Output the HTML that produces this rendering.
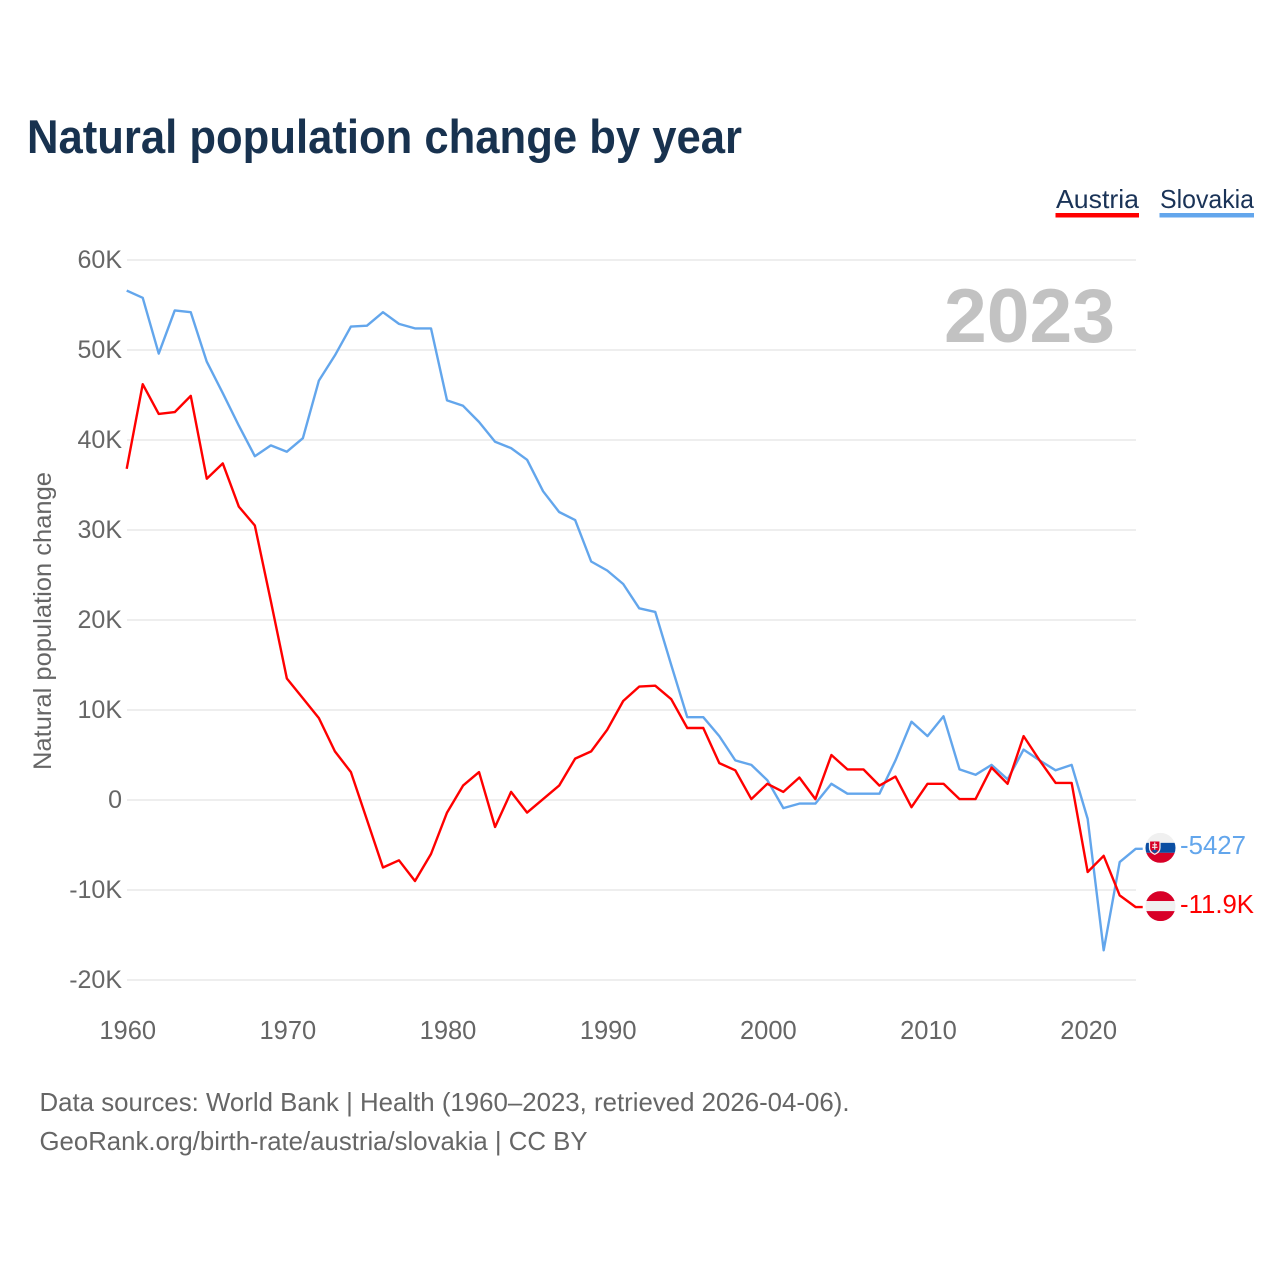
<!DOCTYPE html>
<html lang="en">
<head>
<meta charset="utf-8">
<title>Natural population change by year</title>
<style>
  html,body{margin:0;padding:0;background:#fff;}
  svg{display:block;font-family:"Liberation Sans",sans-serif;}
</style>
</head>
<body>
<svg id="chart" xmlns="http://www.w3.org/2000/svg" width="1280" height="1280" viewBox="0 0 1280 1280">
  <rect x="0" y="0" width="1280" height="1280" fill="#ffffff"/>
  <text x="27" y="153" font-size="47" font-weight="700" fill="#18324f" textLength="715" lengthAdjust="spacingAndGlyphs">Natural population change by year</text>

  <g>
    <g>
      <text x="1056" y="208" font-size="26" fill="#1a3357" textLength="83" lengthAdjust="spacingAndGlyphs">Austria</text>
      <rect x="1055.5" y="213" width="83.5" height="4.5" fill="#ff0000"/>
    </g>
    <g>
      <text x="1160" y="208" font-size="26" fill="#1a3357" textLength="94" lengthAdjust="spacingAndGlyphs">Slovakia</text>
      <rect x="1159.5" y="213" width="94.5" height="4.5" fill="#63a6ec"/>
    </g>
  </g>

  <g id="grid"></g>
  <g id="yticks"></g>
  <g id="xticks"></g>

  <text transform="translate(51,770) rotate(-90)" x="0" y="0" font-size="25" fill="#666666" textLength="298" lengthAdjust="spacingAndGlyphs">Natural population change</text>

  <text x="944" y="342" font-size="76" font-weight="700" fill="#c2c2c2" textLength="171" lengthAdjust="spacingAndGlyphs">2023</text>

  <defs>
    <clipPath id="flag-clip"><circle cx="0" cy="0" r="15"/></clipPath>
  </defs>

  <g id="series"></g>

  <g id="flag-slovakia">
    <g clip-path="url(#flag-clip)">
      <rect x="-15" y="-15" width="30" height="10" fill="#f0f0f0"/>
      <rect x="-15" y="-5" width="30" height="10" fill="#0b4ea2"/>
      <rect x="-15" y="5" width="30" height="10" fill="#d80027"/>
      <path d="M-11,-7 H-0.5 V0 Q-0.5,4 -5.75,6.5 Q-11,4 -11,0 Z" fill="#d80027" stroke="#f0f0f0" stroke-width="1.2"/>
      <path d="M-5.75,-5.5 V2 M-8,-3 H-3.5 M-8.5,-0.5 H-3" stroke="#f0f0f0" stroke-width="1.1" fill="none"/>
      <path d="M-9,3 Q-5.75,0.5 -2.5,3 L-5.75,5.5 Z" fill="#0b4ea2"/>
    </g>
  </g>
  <g id="flag-austria">
    <g clip-path="url(#flag-clip)">
      <rect x="-15" y="-15" width="30" height="10" fill="#d80027"/>
      <rect x="-15" y="-5" width="30" height="10" fill="#f0f0f0"/>
      <rect x="-15" y="5" width="30" height="10" fill="#d80027"/>
    </g>
  </g>

  <g id="end-labels"></g>

  <g>
    <text x="39.500" y="1111" font-size="26" fill="#666666" textLength="810" lengthAdjust="spacingAndGlyphs">Data sources: World Bank | Health (1960–2023, retrieved 2026-04-06).</text>
    <text x="39.500" y="1150" font-size="26" fill="#666666" textLength="548" lengthAdjust="spacingAndGlyphs">GeoRank.org/birth-rate/austria/slovakia | CC BY</text>
  </g>
</svg>

<script>
const startYear = 1960;
const yTickValues = [60, 50, 40, 30, 20, 10, 0, -10, -20];
const yTickLabels = ["60K", "50K", "40K", "30K", "20K", "10K", "0", "-10K", "-20K"];
const xTickYears = [1960, 1970, 1980, 1990, 2000, 2010, 2020];
const austriaValues = [
  36.8, 46.2, 42.9, 43.1, 44.9, 35.7, 37.4, 32.6, 30.5, 22.1,
  13.5, 11.3, 9.1, 5.4, 3.1, -2.2, -7.5, -6.7, -9.0, -6.0,
  -1.4, 1.6, 3.1, -3.0, 0.9, -1.4, 0.1, 1.6, 4.6, 5.4,
  7.8, 11.0, 12.6, 12.7, 11.2, 8.0, 8.0, 4.1, 3.3, 0.1,
  1.8, 0.9, 2.5, 0.1, 5.0, 3.4, 3.4, 1.6, 2.6, -0.8,
  1.8, 1.8, 0.1, 0.1, 3.6, 1.8, 7.1, 4.4, 1.9, 1.9,
  -8.0, -6.2, -10.6, -11.9
];
const slovakiaValues = [
  56.6, 55.8, 49.6, 54.4, 54.2, 48.7, 45.2, 41.6, 38.2, 39.4,
  38.7, 40.2, 46.6, 49.4, 52.6, 52.7, 54.2, 52.9, 52.4, 52.4,
  44.4, 43.8, 42.0, 39.8, 39.1, 37.8, 34.3, 32.0, 31.1, 26.5,
  25.5, 24.0, 21.3, 20.9, 15.0, 9.2, 9.2, 7.1, 4.4, 3.9,
  2.2, -0.9, -0.4, -0.4, 1.8, 0.7, 0.7, 0.7, 4.4, 8.7,
  7.1, 9.3, 3.4, 2.8, 3.9, 2.3, 5.6, 4.4, 3.3, 3.9,
  -2.1, -16.7, -6.9, -5.427
];
const endLabels = ["-11.9K", "-5427"];

const NS = "http://www.w3.org/2000/svg";
const xScale = function (year) { return 126.7 + (year - 1960) * 16.016; };
const yScale = function (k) { return 800 - k * 9; };

const grid = document.getElementById("grid");
const yticks = document.getElementById("yticks");
yTickValues.forEach(function (v, i) {
  const line = document.createElementNS(NS, "line");
  line.setAttribute("x1", 127);
  line.setAttribute("x2", 1136);
  line.setAttribute("y1", yScale(v));
  line.setAttribute("y2", yScale(v));
  line.setAttribute("stroke", "#eeeeee");
  line.setAttribute("stroke-width", 2);
  
  
  grid.appendChild(line);

  const t = document.createElementNS(NS, "text");
  t.setAttribute("x", 122);
  t.setAttribute("y", yScale(v) + 8);
  t.setAttribute("text-anchor", "end");
  t.setAttribute("font-size", 25);
  t.setAttribute("fill", "#666666");
  
  
  t.textContent = yTickLabels[i];
  yticks.appendChild(t);
});

const xticks = document.getElementById("xticks");
xTickYears.forEach(function (yr) {
  const t = document.createElementNS(NS, "text");
  t.setAttribute("x", xScale(yr) + 1);
  t.setAttribute("y", 1039);
  t.setAttribute("text-anchor", "middle");
  t.setAttribute("font-size", 25.5);
  t.setAttribute("fill", "#666666");
  
  
  t.textContent = yr;
  xticks.appendChild(t);
});

function drawSeries(values, color, group) {
  const pts = values.map(function (v, i) {
    return xScale(startYear + i).toFixed(2) + "," + yScale(v).toFixed(2);
  });
  const last = values[values.length - 1];
  pts.push((xScale(startYear + values.length - 1) + 7).toFixed(2) + "," + yScale(last).toFixed(2));
  const line = document.createElementNS(NS, "polyline");
  line.setAttribute("points", pts.join(" "));
  line.setAttribute("fill", "none");
  line.setAttribute("stroke", color);
  line.setAttribute("stroke-width", 2.4);
  line.setAttribute("stroke-linejoin", "round");
  group.appendChild(line);
  return line;
}

const seriesGroup = document.getElementById("series");
const slovakiaLine = drawSeries(slovakiaValues, "#63a6ec", seriesGroup);


const austriaLine = drawSeries(austriaValues, "#ff0000", seriesGroup);



const lastAustriaY = yScale(austriaValues[austriaValues.length - 1]);
const lastSlovakiaY = yScale(slovakiaValues[slovakiaValues.length - 1]);
document.getElementById("flag-austria").setAttribute("transform", "translate(1160.5," + (lastAustriaY - 1) + ")");
document.getElementById("flag-slovakia").setAttribute("transform", "translate(1160.5," + (lastSlovakiaY - 1) + ")");

const endGroup = document.getElementById("end-labels");
const austriaEnd = document.createElementNS(NS, "text");
austriaEnd.setAttribute("x", 1180);
austriaEnd.setAttribute("y", lastAustriaY + 6);
austriaEnd.setAttribute("font-size", 26);
austriaEnd.setAttribute("fill", "#ff0000");
austriaEnd.setAttribute("textLength", 74);
austriaEnd.setAttribute("lengthAdjust", "spacingAndGlyphs");


austriaEnd.textContent = endLabels[0];
endGroup.appendChild(austriaEnd);

const slovakiaEnd = document.createElementNS(NS, "text");
slovakiaEnd.setAttribute("x", 1180);
slovakiaEnd.setAttribute("y", lastSlovakiaY + 5);
slovakiaEnd.setAttribute("font-size", 26);
slovakiaEnd.setAttribute("fill", "#63a6ec");
slovakiaEnd.setAttribute("textLength", 66);
slovakiaEnd.setAttribute("lengthAdjust", "spacingAndGlyphs");


slovakiaEnd.textContent = endLabels[1];
endGroup.appendChild(slovakiaEnd);
</script>
</body>
</html>
